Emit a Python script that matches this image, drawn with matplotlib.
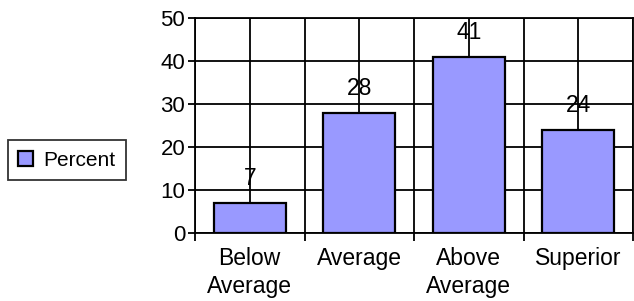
import matplotlib
matplotlib.use('Agg')
import matplotlib.pyplot as plt
import numpy as np

categories = ['Below\nAverage', 'Average', 'Above\nAverage', 'Superior']
percent = [7, 28, 41, 24]
yticks = [0, 10, 20, 30, 40, 50]

plt.rcParams['font.family'] = ['Liberation Sans', 'DejaVu Sans']

W, H = 634, 301
fig = plt.figure(figsize=(W / 100, H / 100), dpi=100)
ax = fig.add_axes([195 / W, (H - 233) / H, (633 - 195) / W, (233 - 18) / H])

x = np.arange(len(categories))
# grid lines at category centres and boundaries, behind the bars
for gx in np.arange(-0.5, len(categories), 0.5):
    ax.axvline(gx, color='black', lw=1.3, zorder=0)
for gy in yticks:
    ax.axhline(gy, color='black', lw=1.3, zorder=0)

bars = ax.bar(x, percent, width=0.66, color='#9999ff', edgecolor='black',
              linewidth=1.6, zorder=2, label='Percent')

for xi, v in zip(x, percent):
    ax.annotate(str(v), (xi, v), xytext=(0, 9), textcoords='offset points',
                ha='center', va='bottom', fontsize=16.5, zorder=3)

ax.set_xlim(-0.5, len(categories) - 0.5)
ax.set_ylim(0, 50)
ax.set_yticks(yticks)
ax.tick_params(axis='y', labelsize=16, length=5, width=1.3, direction='out', pad=2)

ax.set_xticks(x)
ax.set_xticklabels(categories, fontsize=16.5, linespacing=1.3)
ax.set_xticks(np.arange(-0.5, len(categories), 1.0), minor=True)
ax.tick_params(axis='x', which='major', length=0, pad=10)
ax.tick_params(axis='x', which='minor', length=6, width=1.3, direction='out')

for side in ['left', 'bottom', 'top', 'right']:
    ax.spines[side].set_linewidth(1.3)

fig.legend(handles=[bars], labels=['Percent'], loc='center left',
           bbox_to_anchor=(8 / W, 1 - 160 / H), fontsize=15, frameon=True,
           fancybox=False, edgecolor='black', handlelength=0.7, handleheight=0.7,
           handletextpad=0.5, borderpad=0.5, borderaxespad=0)
fig.legends[0].get_frame().set_linewidth(1.3)

plt.savefig('out.png', dpi=100)
